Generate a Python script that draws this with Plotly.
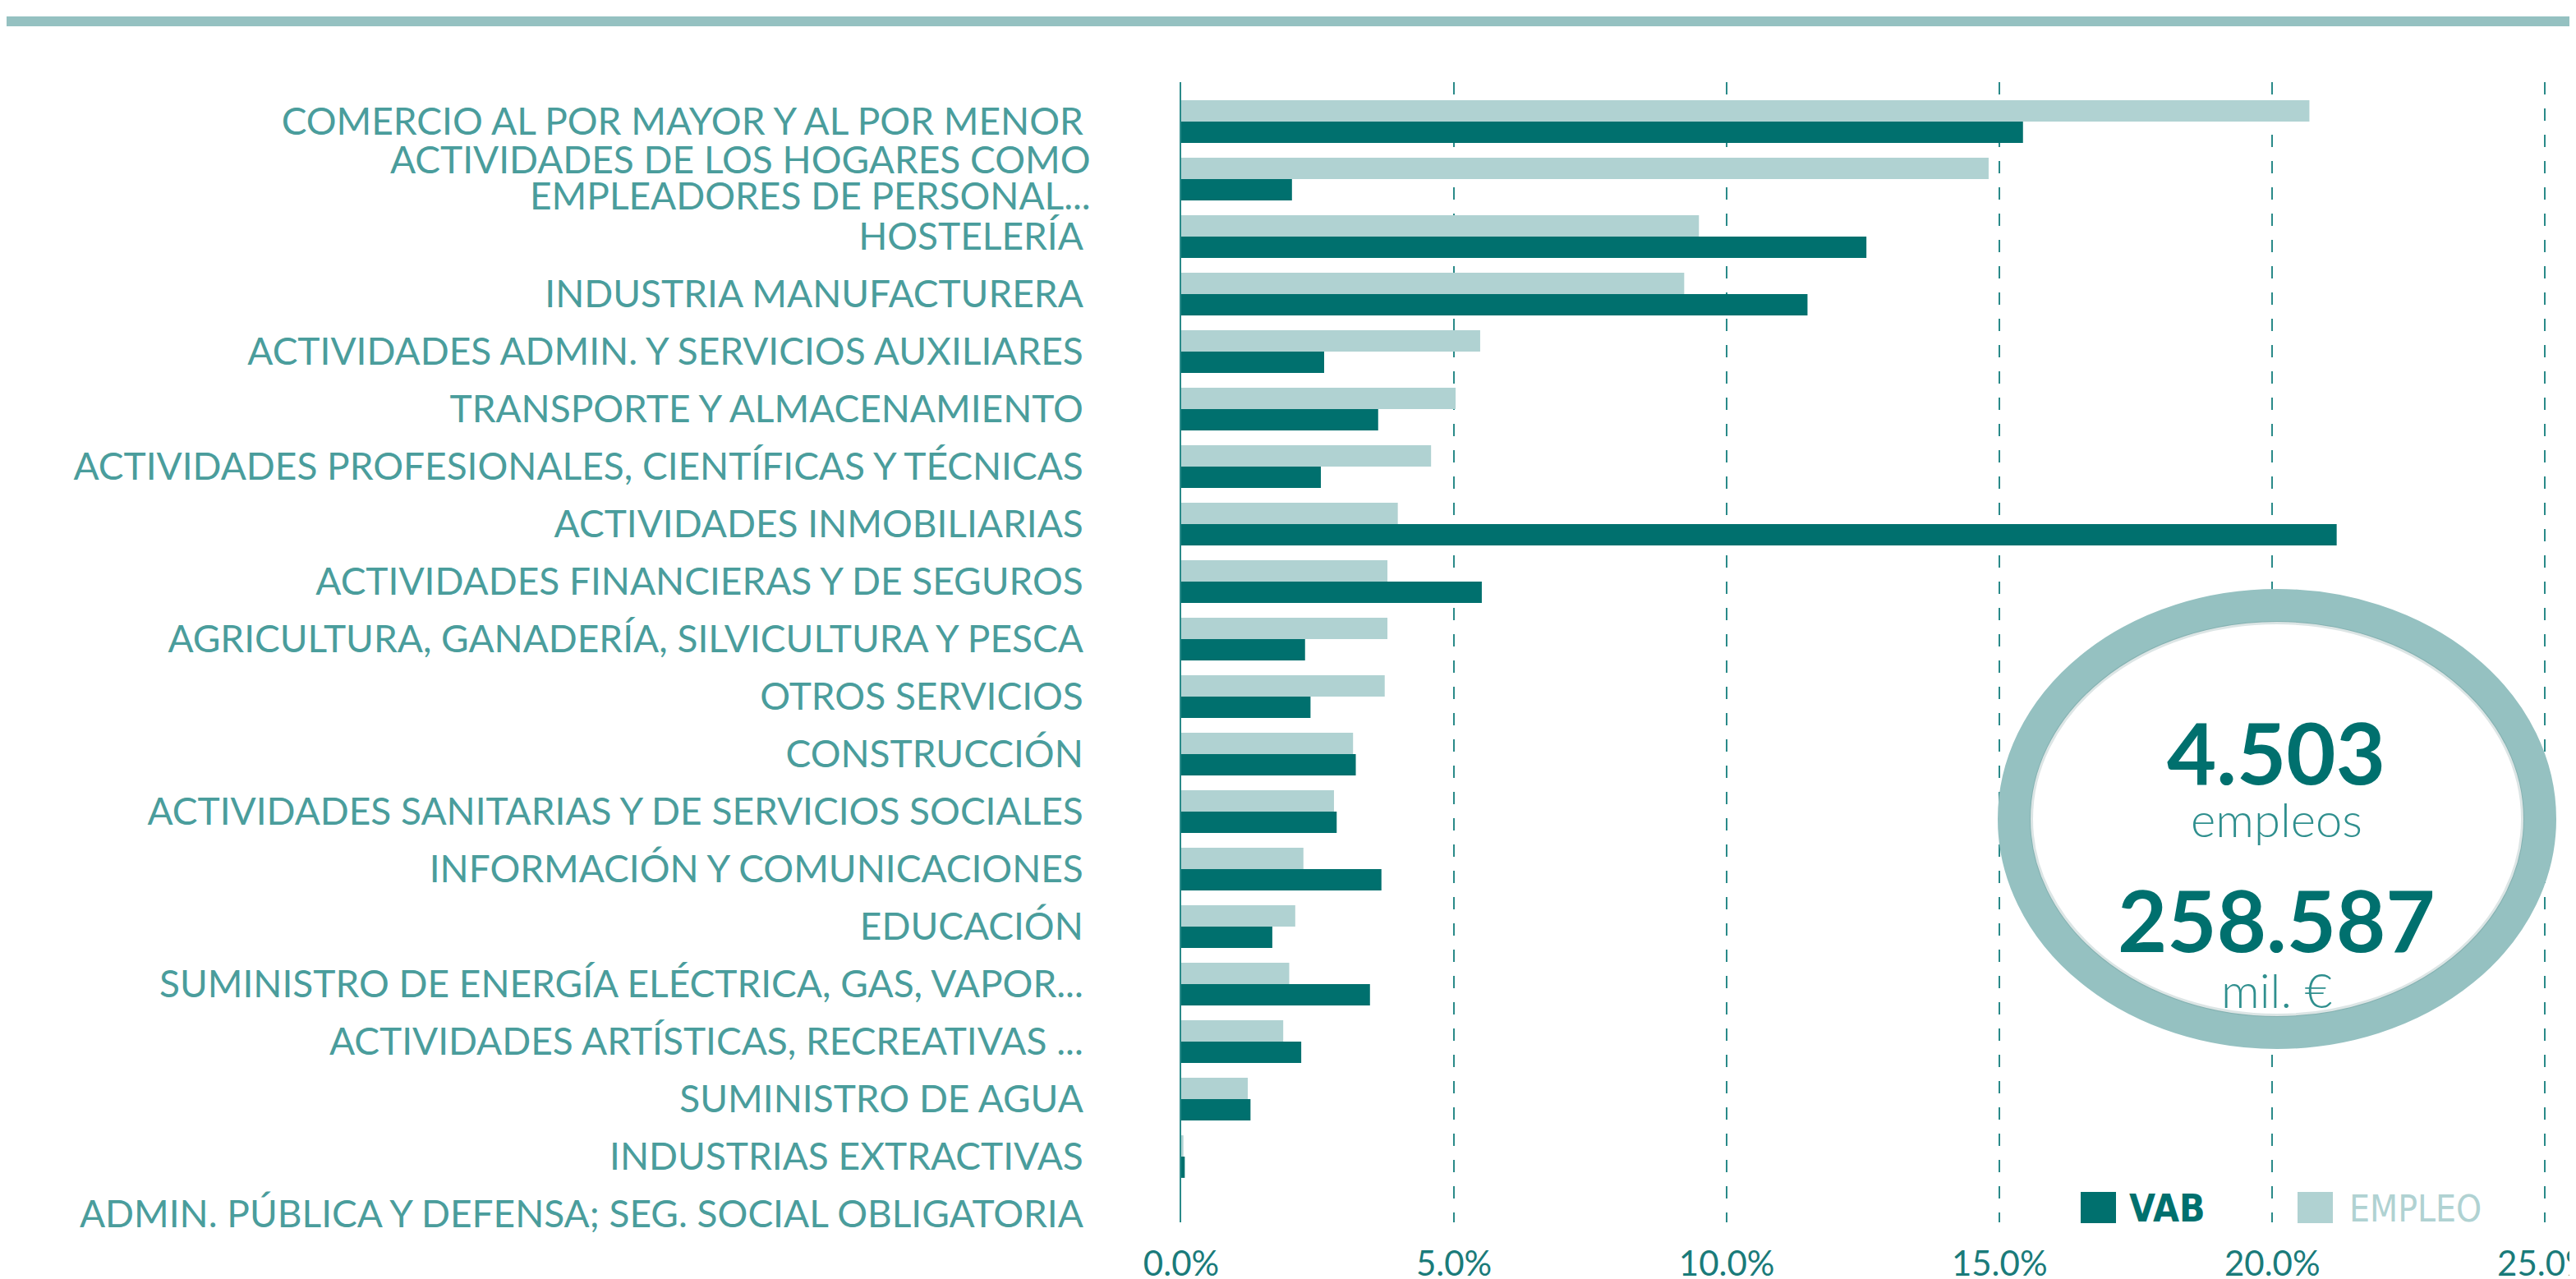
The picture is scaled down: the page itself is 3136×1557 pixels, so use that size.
import plotly.graph_objects as go

categories = [
    "COMERCIO AL POR MAYOR Y AL POR MENOR",
    "ACTIVIDADES DE LOS HOGARES COMO EMPLEADORES DE PERSONAL...",
    "HOSTELERÍA",
    "INDUSTRIA MANUFACTURERA",
    "ACTIVIDADES ADMIN. Y SERVICIOS AUXILIARES",
    "TRANSPORTE Y ALMACENAMIENTO",
    "ACTIVIDADES PROFESIONALES, CIENTÍFICAS Y TÉCNICAS",
    "ACTIVIDADES INMOBILIARIAS",
    "ACTIVIDADES FINANCIERAS Y DE SEGUROS",
    "AGRICULTURA, GANADERÍA, SILVICULTURA Y PESCA",
    "OTROS SERVICIOS",
    "CONSTRUCCIÓN",
    "ACTIVIDADES SANITARIAS Y DE SERVICIOS SOCIALES",
    "INFORMACIÓN Y COMUNICACIONES",
    "EDUCACIÓN",
    "SUMINISTRO DE ENERGÍA ELÉCTRICA, GAS, VAPOR...",
    "ACTIVIDADES ARTÍSTICAS, RECREATIVAS ...",
    "SUMINISTRO DE AGUA",
    "INDUSTRIAS EXTRACTIVAS",
    "ADMIN. PÚBLICA Y DEFENSA; SEG. SOCIAL OBLIGATORIA",
]
# the long category is written on two lines
two_line_category = categories[1]
two_line_text = ["ACTIVIDADES DE LOS HOGARES COMO", "EMPLEADORES DE PERSONAL..."]

empleo = [20.68, 14.80, 9.49, 9.22, 5.48, 5.03, 4.58, 3.97, 3.78, 3.78,
          3.73, 3.15, 2.80, 2.24, 2.09, 1.98, 1.87, 1.22, 0.04, 0.0]
vab = [15.43, 2.03, 12.56, 11.48, 2.62, 3.61, 2.56, 21.18, 5.51, 2.27,
       2.37, 3.20, 2.85, 3.67, 1.67, 3.46, 2.20, 1.27, 0.065, 0.0]

tick_vals = [0, 5, 10, 15, 20, 25]
tick_text = ["0.0%", "5.0%", "10.0%", "15.0%", "20.0%", "25.0%"]

total_empleos = "4.503"
total_vab = "258.587"

DARK = "#00706e"
LIGHT = "#b0d2d2"
RING = "#95c1c1"
LABEL = "#4a9d9c"
TICK = "#1a7b7a"

W, H = 3136, 1557
L, R, T, B = 1430, 3097, 92, 1480


def px(x):
    return (x - L) / (R - L)


def py(y):
    return (B - y) / (B - T)


fig = go.Figure()
fig.add_trace(go.Bar(y=categories, x=empleo, orientation="h", name="EMPLEO",
                     marker=dict(color=LIGHT, line=dict(width=0)), showlegend=False))
fig.add_trace(go.Bar(y=categories, x=vab, orientation="h", name="VAB",
                     marker=dict(color=DARK, line=dict(width=0)), showlegend=False))

shapes = []
# top band
shapes.append(dict(type="rect", xref="paper", yref="paper", x0=px(0), x1=px(W),
                   y0=py(24), y1=py(12), fillcolor=RING, line=dict(width=0), layer="above"))
# ring
shapes.append(dict(type="circle", xref="paper", yref="paper",
                   x0=px(2444), x1=px(3084), y0=py(1249), y1=py(729),
                   fillcolor="white", line=dict(color=RING, width=40), layer="above"))
shapes.append(dict(type="circle", xref="paper", yref="paper",
                   x0=px(2465), x1=px(3063), y0=py(1228), y1=py(750),
                   fillcolor="rgba(0,0,0,0)", line=dict(color="rgba(60,110,110,0.18)", width=4),
                   layer="above"))
# legend squares
shapes.append(dict(type="rect", xref="paper", yref="paper", x0=px(2525), x1=px(2568),
                   y0=py(1481), y1=py(1443), fillcolor=DARK, line=dict(width=0), layer="above"))
shapes.append(dict(type="rect", xref="paper", yref="paper", x0=px(2789), x1=px(2832),
                   y0=py(1481), y1=py(1443), fillcolor=LIGHT, line=dict(width=0), layer="above"))

LEG_FONT = "Liberation Sans Narrow, DejaVu Sans Condensed, Roboto"
annotations = [
    dict(text=total_empleos, x=px(2763), y=py(906), font=dict(family="Lato", size=104, color=DARK, weight=700)),
    dict(text="empleos", x=px(2763), y=py(988), font=dict(family="Lato", size=58, color="#2f8f8e", weight=300)),
    dict(text=total_vab, x=px(2763), y=py(1110), font=dict(family="Lato", size=104, color=DARK, weight=700)),
    dict(text="mil. €", x=px(2763), y=py(1196), font=dict(family="Lato", size=58, color="#2f8f8e", weight=300)),
    dict(text="<b>VAB</b>", x=px(2582), y=py(1463), xanchor="left",
         font=dict(family=LEG_FONT, size=46, color=DARK)),
    dict(text="EMPLEO", x=px(2850), y=py(1463), xanchor="left",
         font=dict(family=LEG_FONT, size=44, color=LIGHT)),
]
for a in annotations:
    a.setdefault("xanchor", "center")
    a.update(xref="paper", yref="paper", yanchor="middle", showarrow=False)

# two-line category label, tied to the category position on the y axis
for line, shift in zip(two_line_text, [25, -19]):
    annotations.append(dict(text=line, xref="paper", x=px(1322), xanchor="right",
                            yref="y", y=two_line_category, yanchor="middle", yshift=shift,
                            showarrow=False, font=dict(family="Lato", size=46, color=LABEL)))

y_ticktext = ["" if c == two_line_category else c for c in categories]

fig.update_layout(
    width=W, height=H,
    margin=dict(l=L, r=W - R, t=T, b=H - B, pad=0, autoexpand=False),
    paper_bgcolor="white", plot_bgcolor="white",
    barmode="group", bargap=0.26, bargroupgap=0.0,
    shapes=shapes, annotations=annotations,
    font=dict(family="Lato", color=LABEL),
)
fig.update_xaxes(range=[0, 25.1], tickvals=tick_vals, ticktext=tick_text, automargin=False,
                 showgrid=True, gridcolor="#2a8a89", gridwidth=2, griddash="15px,17px",
                 zeroline=False, showline=False, ticks="", ticklabelstandoff=22,
                 ticklabeloverflow="allow",
                 tickfont=dict(family="Lato", size=42, color=TICK), side="bottom")
fig.update_yaxes(type="category", categoryorder="array", categoryarray=categories,
                 tickvals=categories, ticktext=y_ticktext, automargin=False,
                 range=[19.143, -0.686], showgrid=False, zeroline=False,
                 showline=True, linecolor="#2a8a89", linewidth=2, ticks="",
                 ticklabelstandoff=108, tickfont=dict(family="Lato", size=46, color=LABEL))

fig.write_html("out.html")
